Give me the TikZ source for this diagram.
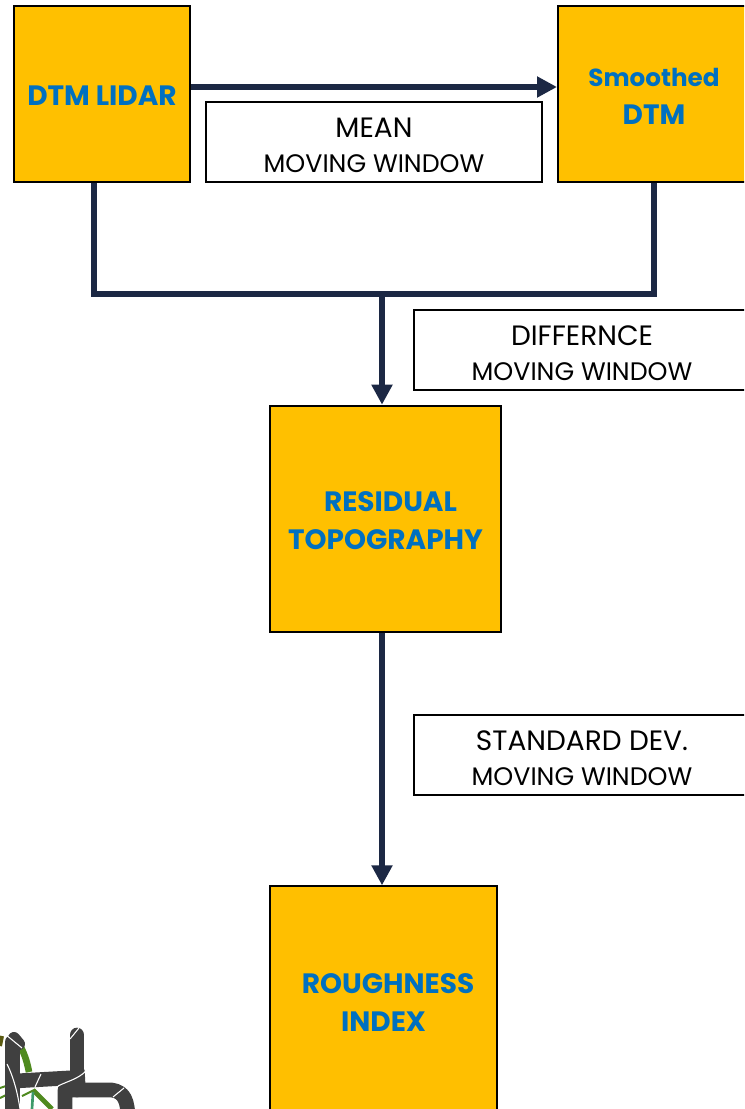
\documentclass[tikz,border=0pt]{standalone}
\usepackage{fontspec}
\setmainfont{Poppins}
\usepackage{tikz}
\usetikzlibrary{arrows.meta,calc}
\definecolor{boxfill}{HTML}{FFC000}
\definecolor{boxtext}{HTML}{0070C0}
\definecolor{flowline}{HTML}{1C2844}
\definecolor{logogray}{HTML}{404040}
\definecolor{logogreen}{HTML}{4F8A1F}
\definecolor{logoteal}{HTML}{3E9A6A}
\definecolor{logoolive}{HTML}{5A5A10}
\newcommand{\downby}[1]{\rule{0pt}{#1}}
\newcommand{\opname}[1]{{\fontsize{21pt}{0pt}\selectfont\downby{20pt}#1}}

\begin{document}
\begin{tikzpicture}[x=0.75pt,y=-0.75pt,>={Triangle[length=15pt,width=15pt]}]
  \tikzstyle{product}=[rectangle,draw=black,line width=1.5pt,fill=boxfill,text=boxtext,
                       inner sep=0pt,align=center,font=\fontsize{21pt}{28.5pt}\selectfont\bfseries]
  \tikzstyle{operation}=[rectangle,draw=black,line width=1.5pt,fill=white,text=black,
                         inner sep=0pt,align=center,minimum width=252pt,minimum height=60pt,
                         font=\fontsize{19pt}{26pt}\selectfont]
  \tikzstyle{flow}=[draw=flowline,line width=4.5pt]
  \tikzstyle{logostroke}=[draw=logogray,line width=11pt,line cap=round]
  \tikzstyle{logocut}=[draw=white,line width=0.8pt]

  \useasboundingbox (0,0) rectangle (744,1109);
  \clip (0,0) rectangle (744,1109);

  \node[product,minimum width=132pt,minimum height=132pt] (lidar) at (102,94) {\downby{18pt}DTM LIDAR};
  \node[product,minimum width=144pt,minimum height=132pt] (smooth) at (654,94) {{\fontsize{18.5pt}{0pt}\selectfont\downby{18pt}Smoothed}\\DTM};
  \node[product,minimum width=173pt,minimum height=170pt] (residual) at (385.5,519) {\downby{18pt}\hspace*{7.5pt}RESIDUAL\\TOPOGRAPHY};
  \node[product,minimum width=170pt,minimum height=172pt,fill=boxfill!98!orange] (rough) at (383.5,1001) {\downby{17pt}\hspace*{6.8pt}ROUGHNESS\\INDEX};

  \node[operation] (mean) at (374,142) {\opname{MEAN}\\MOVING WINDOW};
  \node[operation] (diff) at (582,350) {\opname{DIFFERNCE}\\MOVING WINDOW};
  \node[operation] (std) at (582,755) {\opname{STANDARD DEV.}\\MOVING WINDOW};

  \coordinate (meanout) at ($(lidar.east)+(0,-7)$);
  \coordinate (meanin) at (smooth.west |- meanout);
  \coordinate (lidarout) at ($(lidar.south)+(-8,0)$);
  \coordinate (smoothout) at (smooth.south);
  \coordinate (joinleft) at (lidarout |- 0,294);
  \coordinate (joinright) at (smoothout |- 0,294);
  \coordinate (joinmid) at (382,294);
  \coordinate (residualin) at (joinmid |- residual.north);
  \coordinate (residualout) at (joinmid |- residual.south);
  \coordinate (roughin) at (joinmid |- rough.north);

  \draw[flow,->] (meanout) -- (meanin);
  \draw[flow] (lidarout) -- (joinleft) -- (joinright) -- (smoothout);
  \draw[flow,->] (joinmid) -- (residualin);
  \draw[flow,->] (residualout) -- (roughin);

  % logo in the corner
  \draw[logoolive,line width=3pt] (2,1036) -- (0,1046);
  \draw[logogreen,line width=5pt] (14,1036) .. controls (22,1048) and (26,1056) .. (29,1072);
  \draw[logogreen,line width=1.5pt] (0,1088) -- (6,1086) (0,1098) -- (6,1095) (22,1096) -- (34,1090);
  \draw[logogreen,line width=3.5pt] (33,1090) -- (52,1109);
  \draw[logoteal,line width=2pt] (33,1092) -- (32,1109);
  \draw[logogray,line width=9pt,line cap=round] (14,1038) -- (19,1044);
  \draw[logostroke] (12.5,1042) -- (12.5,1120);
  \draw[logostroke] (77,1035) -- (77,1090);
  \draw[logogray,line width=11pt] (15,1081) -- (85,1077);
  \draw[logogray,line width=11pt,line join=round] (65,1125) -- (65,1090) -- (112,1090) .. controls (124,1092) and (128,1100) .. (128,1120);
  \draw[logocut] (58,1086) .. controls (68,1081) and (78,1079) .. (86,1071);
  \draw[logocut] (41,1074) -- (35,1087);
  \draw[logocut] (70,1039) -- (79,1028);
  \draw[logocut] (113,1097) -- (124,1088);
  \draw[logocut] (7,1064) .. controls (14,1078) and (18,1095) .. (20,1109);
  \draw[logocut] (5,1034) -- (22,1048);
\end{tikzpicture}
\end{document}
